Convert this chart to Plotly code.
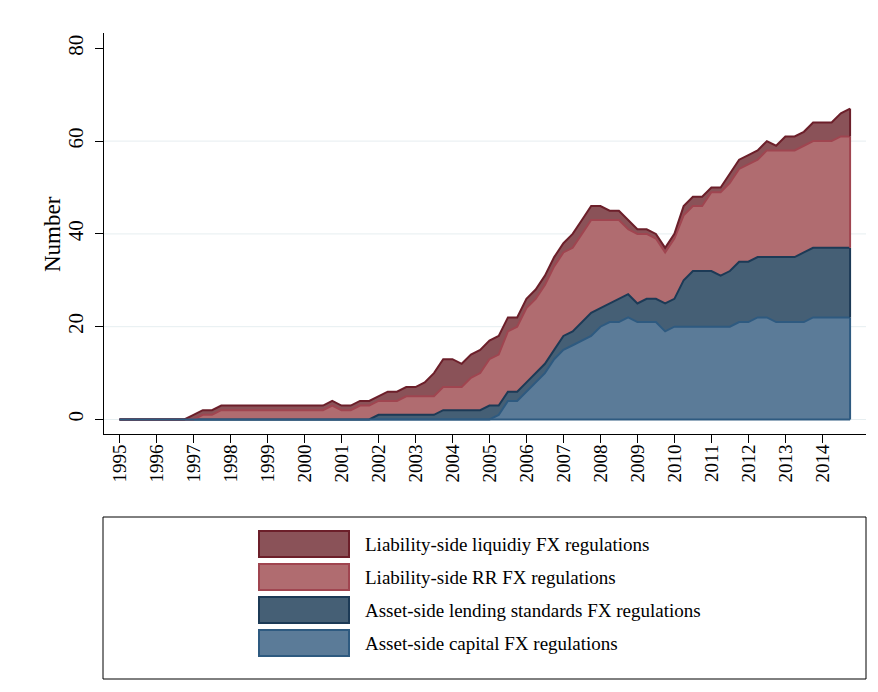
import plotly.graph_objects as go

# ---------------- data (quarterly, 1995Q1 .. 2014Q4) ----------------
quarter_pos = [1995 + q / 4 for q in range(80)]
year_ticks = list(range(1995, 2015))
year_labels = [str(y) for y in year_ticks]
y_ticks = [0, 20, 40, 60, 80]

asset_capital = [0] * 41 + [1, 4, 4, 6, 8, 10, 13, 15, 16, 17, 18, 20, 21, 21, 22,
                            21, 21, 21, 19, 20, 20, 20, 20, 20, 20, 20, 21, 21, 22, 22,
                            21, 21, 21, 21, 22, 22, 22, 22, 22]
asset_lending = [0] * 28 + [1] * 7 + [2] * 5 + [3, 2, 2, 2, 2, 2, 2, 2, 3, 3, 4, 5, 4, 4,
                                                 5, 5, 4, 5, 5, 6, 6, 10, 12, 12, 12, 11,
                                                 12, 13, 13, 13, 13, 14, 14, 14, 15, 15,
                                                 15, 15, 15, 15]
liab_rr = [0] * 9 + [1, 1] + [2] * 12 + [3, 2, 2, 3, 3, 3, 3, 3, 4, 4, 4, 4, 5, 5, 5, 7, 8,
                                          10, 11, 13, 14, 16, 16, 17, 18, 18, 18, 19, 20,
                                          19, 18, 17, 14, 15, 14, 13, 11, 13, 14, 14, 14,
                                          17, 18, 19, 20, 21, 21, 23, 23, 23, 23, 23, 23,
                                          23, 23, 24, 24]
liab_liquidity = [0] * 8 + [1] * 21 + [2, 2, 2, 2, 3, 5, 6, 6, 5, 5, 5, 4, 4, 3, 2, 2, 2,
                                        2, 2, 2, 3, 3, 3, 3, 2, 2, 2, 1, 1, 1, 1, 1, 2, 2,
                                        2, 1, 1, 2, 2, 2, 2, 2, 1, 3, 3, 3, 4, 4, 4, 5, 6]

series = [
    ("Asset-side capital FX regulations", asset_capital, "rgba(91,123,152,1)", "#2E5A80"),
    ("Asset-side lending standards FX regulations", asset_lending, "rgba(69,95,117,1)", "#1C3A56"),
    ("Liability-side RR FX regulations", liab_rr, "rgba(176,108,112,1)", "#A04550"),
    ("Liability-side liquidiy FX regulations", liab_liquidity, "rgba(138,82,88,1)", "#6C1F2A"),
]

FONT = "Liberation Serif, Times New Roman, serif"

fig = go.Figure()
for name, vals, fill, line in series:
    fig.add_trace(go.Scatter(
        x=quarter_pos, y=vals, name=name, mode="lines",
        stackgroup="one", fillcolor=fill,
        line=dict(color=line, width=2), showlegend=False,
    ))

shapes = []
for v in y_ticks[:-1]:
    shapes.append(dict(type="line", xref="paper", x0=0, x1=1, yref="y", y0=v, y1=v,
                       line=dict(color="#E6EEF0", width=1), layer="below"))
shapes.append(dict(type="line", xref="x", yref="y", x0=quarter_pos[0], x1=quarter_pos[-1],
                   y0=0, y1=0, line=dict(color=series[0][3], width=2)))
cum = 0
for name, vals, fill, line in series:
    shapes.append(dict(type="line", xref="x", yref="y", x0=quarter_pos[-1], x1=quarter_pos[-1],
                       y0=cum, y1=cum + vals[-1], line=dict(color=line, width=2)))
    cum += vals[-1]

# plot area in screen pixels (page has an 8px body offset)
OFF = 8
L, R, T, B = 104, 866, 33, 434
W, H = R - L, B - T


def px(x):
    return (x - L) / W


def py(y):
    return (B - y) / H


shapes.append(dict(type="rect", xref="paper", yref="paper", x0=px(103), x1=px(866),
                   y0=py(517), y1=py(679), line=dict(color="black", width=1),
                   fillcolor="rgba(0,0,0,0)"))
annotations = []
for k, (name, vals, fill, line) in enumerate(reversed(series)):
    top = 531 + 33 * k
    shapes.append(dict(type="rect", xref="paper", yref="paper", x0=px(259), x1=px(349),
                       y0=py(top), y1=py(top + 26), fillcolor=fill,
                       line=dict(color=line, width=2)))
    annotations.append(dict(xref="paper", yref="paper", x=px(363), y=py(top + 13),
                            text=name, showarrow=False, xanchor="left", yanchor="middle",
                            font=dict(family=FONT, size=19, color="black")))

annotations.append(dict(xref="paper", yref="paper", x=px(52), y=py(234), text="Number",
                        textangle=-90, showarrow=False, xanchor="center", yanchor="middle",
                        font=dict(family=FONT, size=23, color="black")))

fig.update_layout(
    width=878, height=692,
    margin=dict(l=L - OFF, r=878 - R + OFF, t=T - OFF, b=692 - B + OFF, pad=0),
    paper_bgcolor="white", plot_bgcolor="white",
    font=dict(family=FONT, color="black"),
    shapes=shapes, annotations=annotations,
    xaxis=dict(range=[1994.58, 2015.18], tickmode="array", tickvals=year_ticks,
               ticktext=year_labels, tickangle=-90, ticks="outside", ticklen=8,
               tickcolor="black", showline=True, linecolor="black", linewidth=1,
               showgrid=False, zeroline=False, ticklabelstandoff=-6,
               tickfont=dict(family=FONT, size=19, color="black")),
    yaxis=dict(range=[-3.125, 83.3], tickmode="array", tickvals=y_ticks,
               tickangle=-90, ticks="outside", ticklen=8, tickcolor="black",
               showline=True, linecolor="black", linewidth=1,
               showgrid=False, zeroline=False, ticklabelstandoff=4,
               tickfont=dict(family=FONT, size=21, color="black")),
)

fig.write_html("out.html")
